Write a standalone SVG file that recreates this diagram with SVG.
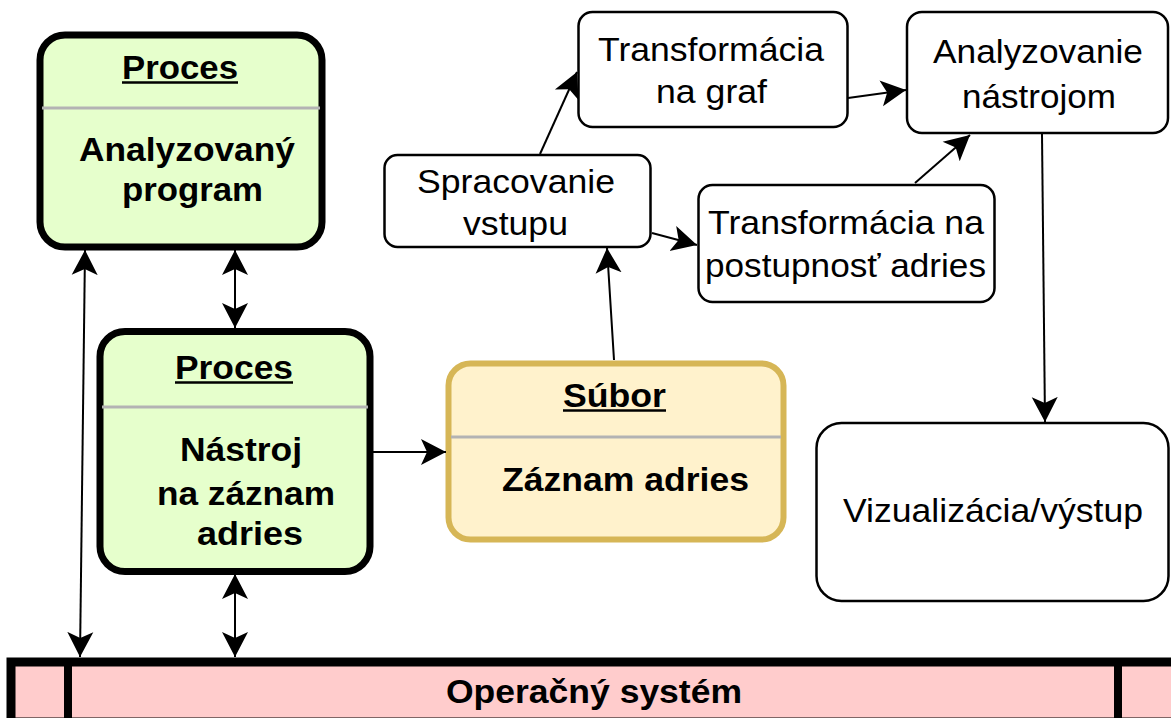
<svg xmlns="http://www.w3.org/2000/svg" width="1171" height="718" viewBox="0 0 1171 718">
  <style>
    .bold { font-family: "Liberation Sans", Arial, sans-serif; font-weight: bold; font-size: 33px; fill: #000; }
    .reg { font-family: "Liberation Sans", Arial, sans-serif; font-size: 33px; fill: #000; }
    .proc { fill: #e6ffcc; stroke: #000; stroke-width: 7; }
    .file { fill: #fff2cc; stroke: #d6b656; stroke-width: 6; }
    .step { fill: #fff; stroke: #000; stroke-width: 2.5; }
    .sep { stroke: #b3b3b3; stroke-width: 3; }
    .ul { stroke: #000; stroke-width: 2.5; }
    .edge { fill: none; stroke: #000; stroke-width: 2; }
  </style>
  <defs>
    <marker id="arr" viewBox="0 0 26 28" refX="25" refY="14" markerWidth="26" markerHeight="28" markerUnits="userSpaceOnUse" orient="auto-start-reverse">
      <path d="M25,14 L0,1 L6,14 L0,27 Z" fill="#000"/>
    </marker>
  </defs>

  <rect width="1171" height="718" fill="#fff"/>

  <!-- operating system bar -->
  <g id="os">
    <rect x="11" y="662" width="1200" height="60" fill="#ffcccc" stroke="#000" stroke-width="9"/>
    <line x1="68" y1="662" x2="68" y2="720" stroke="#000" stroke-width="8"/>
    <line x1="1118" y1="662" x2="1118" y2="720" stroke="#000" stroke-width="8"/>
    <text class="bold" x="446" y="703" textLength="296" lengthAdjust="spacingAndGlyphs">Operačný systém</text>
  </g>

  <!-- analysed program process -->
  <g id="proc-program">
    <rect class="proc" x="40" y="35" width="282" height="212" rx="25"/>
    <line class="sep" x1="42" y1="108" x2="320" y2="108"/>
    <text class="bold" x="122" y="79" textLength="116" lengthAdjust="spacingAndGlyphs">Proces</text>
    <line class="ul" x1="122" y1="82.5" x2="238" y2="82.5"/>
    <text class="bold" x="79" y="161" textLength="216" lengthAdjust="spacingAndGlyphs">Analyzovaný</text>
    <text class="bold" x="122" y="201" textLength="141" lengthAdjust="spacingAndGlyphs">program</text>
  </g>

  <!-- address recording tool process -->
  <g id="proc-tool">
    <rect class="proc" x="100" y="331.5" width="270" height="240" rx="25"/>
    <line class="sep" x1="102" y1="407" x2="368" y2="407"/>
    <text class="bold" x="175" y="379" textLength="118" lengthAdjust="spacingAndGlyphs">Proces</text>
    <line class="ul" x1="175" y1="382.5" x2="293" y2="382.5"/>
    <text class="bold" x="180" y="461" textLength="122" lengthAdjust="spacingAndGlyphs">Nástroj</text>
    <text class="bold" x="157" y="505" textLength="178" lengthAdjust="spacingAndGlyphs">na záznam</text>
    <text class="bold" x="197" y="545" textLength="106" lengthAdjust="spacingAndGlyphs">adries</text>
  </g>

  <!-- address record file -->
  <g id="file-record">
    <rect class="file" x="448.5" y="363.5" width="335" height="176" rx="22"/>
    <line class="sep" x1="451" y1="437" x2="781" y2="437"/>
    <text class="bold" x="563" y="407" textLength="103" lengthAdjust="spacingAndGlyphs">Súbor</text>
    <line class="ul" x1="563" y1="410.5" x2="666" y2="410.5"/>
    <text class="bold" x="502" y="491" textLength="247" lengthAdjust="spacingAndGlyphs">Záznam adries</text>
  </g>

  <g id="step-input">
    <rect class="step" x="384.5" y="155" width="266" height="92" rx="13"/>
    <text class="reg" x="417" y="193" textLength="198" lengthAdjust="spacingAndGlyphs">Spracovanie</text>
    <text class="reg" x="463" y="235" textLength="105" lengthAdjust="spacingAndGlyphs">vstupu</text>
  </g>

  <g id="step-graph">
    <rect class="step" x="578.5" y="12" width="269" height="115" rx="14"/>
    <text class="reg" x="598" y="61" textLength="226" lengthAdjust="spacingAndGlyphs">Transformácia</text>
    <text class="reg" x="656" y="103" textLength="111" lengthAdjust="spacingAndGlyphs">na graf</text>
  </g>

  <g id="step-sequence">
    <rect class="step" x="698.5" y="185" width="296" height="117" rx="14"/>
    <text class="reg" x="708" y="234" textLength="276" lengthAdjust="spacingAndGlyphs">Transformácia na</text>
    <text class="reg" x="705" y="277" textLength="281" lengthAdjust="spacingAndGlyphs">postupnosť adries</text>
  </g>

  <g id="step-analysis">
    <rect class="step" x="907" y="12" width="261" height="121" rx="15"/>
    <text class="reg" x="933" y="63" textLength="210" lengthAdjust="spacingAndGlyphs">Analyzovanie</text>
    <text class="reg" x="962" y="108" textLength="154" lengthAdjust="spacingAndGlyphs">nástrojom</text>
  </g>

  <g id="step-output">
    <rect class="step" x="816.5" y="423" width="352" height="178" rx="25"/>
    <text class="reg" x="843" y="522" textLength="300" lengthAdjust="spacingAndGlyphs">Vizualizácia/výstup</text>
  </g>

  <!-- connectors -->
  <g id="connectors">
    <line class="edge" x1="85" y1="250" x2="80" y2="657" marker-start="url(#arr)" marker-end="url(#arr)"/>
    <line class="edge" x1="235" y1="250" x2="235" y2="328" marker-start="url(#arr)" marker-end="url(#arr)"/>
    <line class="edge" x1="235" y1="574" x2="235" y2="657" marker-start="url(#arr)" marker-end="url(#arr)"/>
    <line class="edge" x1="373" y1="452" x2="446" y2="452" marker-end="url(#arr)"/>
    <line class="edge" x1="614" y1="360" x2="607" y2="248" marker-end="url(#arr)"/>
    <line class="edge" x1="540" y1="154" x2="577" y2="72" marker-end="url(#arr)"/>
    <line class="edge" x1="652" y1="233" x2="697" y2="245" marker-end="url(#arr)"/>
    <line class="edge" x1="848" y1="98" x2="906" y2="90" marker-end="url(#arr)"/>
    <line class="edge" x1="915" y1="183" x2="970" y2="135" marker-end="url(#arr)"/>
    <line class="edge" x1="1042" y1="134" x2="1045" y2="422" marker-end="url(#arr)"/>
  </g>
</svg>
